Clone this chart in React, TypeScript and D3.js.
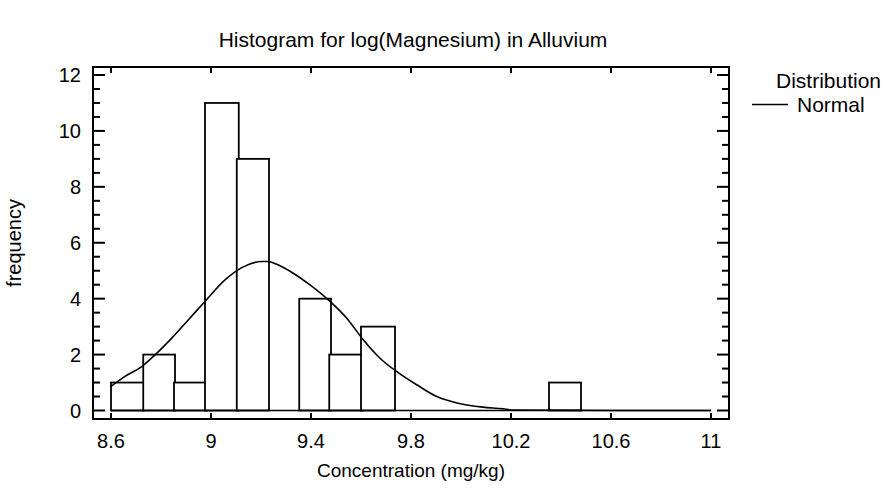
import * as d3 from "d3";
import { useEffect, useRef } from "react";

// histogram bins (left edge, right edge, count)
const binLow = [8.6, 8.729, 8.852, 8.976, 9.103, 9.353, 9.473, 9.6, 10.352];
const binHigh = [8.733, 8.856, 8.983, 9.111, 9.232, 9.48, 9.607, 9.736, 10.48];
const counts = [1, 2, 1, 11, 9, 4, 2, 3, 1];

// fitted normal curve, read point by point
const curveX = [8.6, 8.656, 8.723, 8.776, 8.843, 8.909, 8.976, 9.056, 9.123, 9.203, 9.229, 9.263, 9.329, 9.396, 9.476, 9.543, 9.609, 9.676, 9.743, 9.823, 9.903, 9.989, 10.089, 10.169, 10.2, 10.6, 11];
const curveY = [0.86, 1.22, 1.57, 1.99, 2.59, 3.24, 3.9, 4.67, 5.11, 5.33, 5.33, 5.23, 4.91, 4.49, 3.9, 3.3, 2.53, 1.87, 1.39, 0.92, 0.5, 0.26, 0.12, 0.06, 0.02, 0, 0];

const xTicks = [8.6, 9, 9.4, 9.8, 10.2, 10.6, 11];
const yTicks = [0, 2, 4, 6, 8, 10, 12];
const yMinor = d3.range(0, 12.01, 0.5);

const title = "Histogram for log(Magnesium) in Alluvium";
const xTitle = "Concentration (mg/kg)";
const yTitle = "frequency";
const legendTitle = "Distribution";
const legendItem = "Normal";

export default function App() {
  const svgRef = useRef(null);
  const width = 891;
  const height = 491;
  const frame = { left: 93, right: 729, top: 67, bottom: 419 };
  const font = "'Liberation Sans', Arial, sans-serif";

  useEffect(() => {
    const svg = d3.select(svgRef.current);
    svg.selectAll("*").remove();

    const x = d3.scaleLinear().domain([8.6, 11]).range([111, 711]);
    const y = d3.scaleLinear().domain([0, 12]).range([410.5, 75]);

    svg.append("rect").attr("width", width).attr("height", height).attr("fill", "white");

    // title
    svg.append("text")
      .attr("x", 413).attr("y", 47)
      .attr("text-anchor", "middle")
      .attr("font-family", font).attr("font-size", 21)
      .text(title);

    // bars
    svg.selectAll(".bar")
      .data(counts)
      .enter()
      .append("rect")
      .attr("x", (d, i) => x(binLow[i]))
      .attr("width", (d, i) => x(binHigh[i]) - x(binLow[i]))
      .attr("y", (d) => y(d))
      .attr("height", (d) => y(0) - y(d))
      .attr("fill", "white")
      .attr("stroke", "black")
      .attr("stroke-width", 1.8);

    // zero line
    svg.append("line")
      .attr("x1", x(8.6)).attr("x2", x(11))
      .attr("y1", y(0)).attr("y2", y(0))
      .attr("stroke", "black").attr("stroke-width", 1.4);

    // normal curve
    const line = d3.line()
      .x((d) => x(d[0]))
      .y((d) => y(d[1]))
      .curve(d3.curveMonotoneX);
    svg.append("path")
      .attr("d", line(curveX.map((v, i) => [v, curveY[i]])))
      .attr("fill", "none")
      .attr("stroke", "black")
      .attr("stroke-width", 1.6);

    // frame
    svg.append("rect")
      .attr("x", frame.left).attr("y", frame.top)
      .attr("width", frame.right - frame.left)
      .attr("height", frame.bottom - frame.top)
      .attr("fill", "none")
      .attr("stroke", "black")
      .attr("stroke-width", 2);

    // y ticks, both sides, pointing in
    const ticks = svg.append("g").attr("stroke", "black").attr("stroke-width", 2);
    yMinor.forEach((v) => {
      const major = Math.abs(v % 2) < 1e-6;
      const len = major ? 12 : 7;
      ticks.append("line")
        .attr("x1", frame.left).attr("x2", frame.left + len)
        .attr("y1", y(v)).attr("y2", y(v));
      ticks.append("line")
        .attr("x1", frame.right).attr("x2", frame.right - len)
        .attr("y1", y(v)).attr("y2", y(v));
    });
    // x ticks bottom and top
    xTicks.forEach((v) => {
      ticks.append("line")
        .attr("x1", x(v)).attr("x2", x(v))
        .attr("y1", frame.bottom).attr("y2", frame.bottom - 6);
      ticks.append("line")
        .attr("x1", x(v)).attr("x2", x(v))
        .attr("y1", frame.top).attr("y2", frame.top + 6);
    });

    // tick labels
    svg.append("g")
      .selectAll("text")
      .data(yTicks)
      .enter()
      .append("text")
      .attr("x", 81)
      .attr("y", (d) => y(d))
      .attr("dy", "0.36em")
      .attr("text-anchor", "end")
      .attr("font-family", font).attr("font-size", 20)
      .text((d) => d);

    svg.append("g")
      .selectAll("text")
      .data(xTicks)
      .enter()
      .append("text")
      .attr("x", (d) => x(d))
      .attr("y", 448)
      .attr("text-anchor", "middle")
      .attr("font-family", font).attr("font-size", 20)
      .text((d) => d);

    // axis titles
    svg.append("text")
      .attr("x", 411).attr("y", 477)
      .attr("text-anchor", "middle")
      .attr("font-family", font).attr("font-size", 19)
      .text(xTitle);
    svg.append("text")
      .attr("transform", `translate(21, ${243}) rotate(-90)`)
      .attr("text-anchor", "middle")
      .attr("font-family", font).attr("font-size", 20)
      .text(yTitle);

    // legend
    svg.append("text")
      .attr("x", 776).attr("y", 88)
      .attr("font-family", font).attr("font-size", 21)
      .text(legendTitle);
    svg.append("line")
      .attr("x1", 752).attr("x2", 788)
      .attr("y1", 104.5).attr("y2", 104.5)
      .attr("stroke", "black").attr("stroke-width", 1.5);
    svg.append("text")
      .attr("x", 797).attr("y", 112)
      .attr("font-family", font).attr("font-size", 21)
      .text(legendItem);
  }, []);

  return (
    <svg
      ref={svgRef}
      width={width}
      height={height}
      style={{ position: "absolute", left: 0, top: 0 }}
    ></svg>
  );
}
